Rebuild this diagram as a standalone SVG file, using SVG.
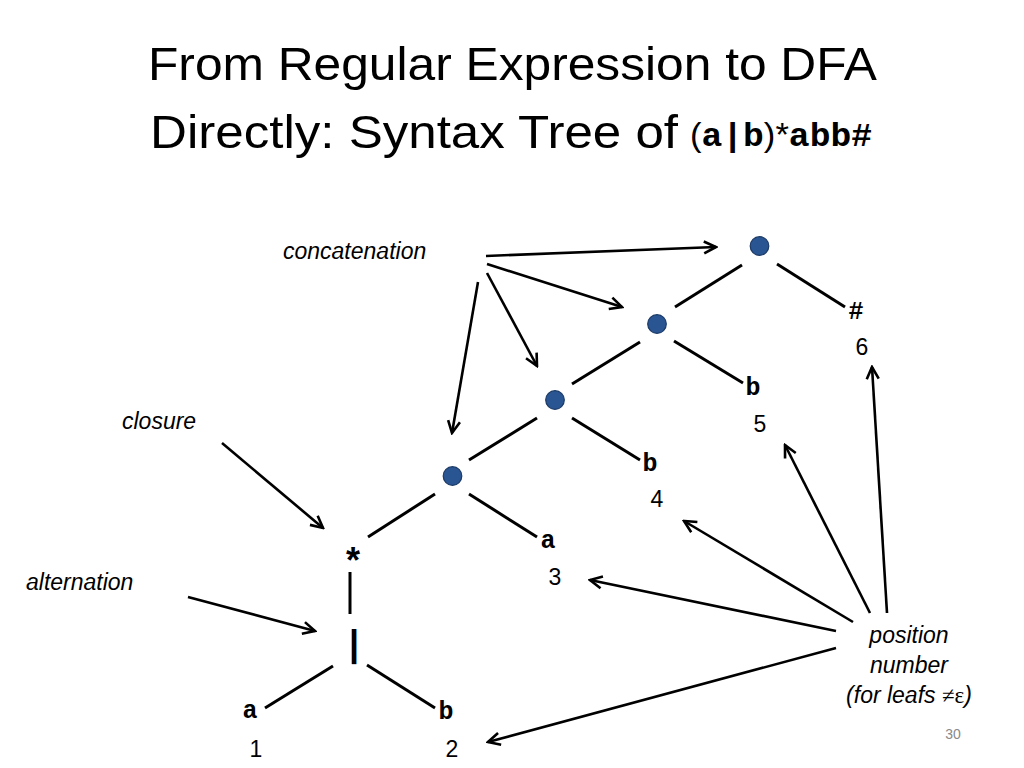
<svg xmlns="http://www.w3.org/2000/svg" width="1024" height="768" viewBox="0 0 1024 768">
<style>
.title{font-family:"Liberation Sans","Open Sans",Arial,sans-serif;font-size:47px;fill:#000}
.code{font-family:"Liberation Mono","Courier New",monospace;font-weight:bold}
.lbl{font-family:"Liberation Sans","Open Sans",Arial,sans-serif;font-style:italic;font-size:23px;fill:#000}
.leaf{font-family:"Liberation Mono","Courier New",monospace;font-weight:bold;font-size:25px;fill:#000;text-anchor:middle}
.num{font-family:"Liberation Sans","Open Sans",Arial,sans-serif;font-size:23px;fill:#000;text-anchor:middle}
.edge{stroke:#000;stroke-width:3;fill:none}
.arrow{stroke:#000;stroke-width:2.6;fill:none;marker-end:url(#arr)}
.dot{fill:#2a5593;stroke:#1b3a66;stroke-width:1.2}
</style>
<defs>
<marker id="arr" markerUnits="userSpaceOnUse" viewBox="-14 -8 16 16" refX="0" refY="0" markerWidth="16" markerHeight="16" orient="auto">
<path d="M-12,-6 L0,0 L-12,6" fill="none" stroke="#000" stroke-width="2.6"/>
</marker>
</defs>
<rect width="1024" height="768" fill="#fff"/>
<g id="title">
<text class="title" x="148" y="80" textLength="729" lengthAdjust="spacingAndGlyphs">From Regular Expression to DFA</text>
<text class="title" x="150" y="148" textLength="528" lengthAdjust="spacingAndGlyphs">Directly: Syntax Tree of</text>
<text x="690" y="146" font-size="34" font-family="Liberation Sans,Arial,sans-serif" textLength="182" lengthAdjust="spacingAndGlyphs"><tspan>(</tspan><tspan class="code">a|b</tspan><tspan>)*</tspan><tspan class="code">abb#</tspan></text>
</g>
<g id="connectors">
<line class="edge" x1="742" y1="265" x2="675" y2="307"/>
<line class="edge" x1="777" y1="264" x2="845" y2="307"/>
<line class="edge" x1="640" y1="342" x2="572" y2="384"/>
<line class="edge" x1="674" y1="341" x2="743" y2="383"/>
<line class="edge" x1="537" y1="418" x2="469" y2="460"/>
<line class="edge" x1="572" y1="418" x2="640" y2="460"/>
<line class="edge" x1="435" y1="494" x2="368" y2="537"/>
<line class="edge" x1="469" y1="494" x2="537" y2="537"/>
<line class="edge" x1="350" y1="572" x2="350" y2="614"/>
<line class="edge" x1="333" y1="666" x2="265" y2="708"/>
<line class="edge" x1="367" y1="665" x2="435" y2="708"/>
<line class="arrow" x1="486" y1="256" x2="716" y2="247"/>
<line class="arrow" x1="487" y1="264" x2="622" y2="307"/>
<line class="arrow" x1="487" y1="273" x2="537" y2="366"/>
<line class="arrow" x1="478" y1="282" x2="452" y2="433"/>
<line class="arrow" x1="222" y1="443" x2="323" y2="528"/>
<line class="arrow" x1="188" y1="597" x2="315" y2="631"/>
<line class="arrow" x1="887" y1="613" x2="872" y2="367"/>
<line class="arrow" x1="870" y1="613" x2="785" y2="445"/>
<line class="arrow" x1="853" y1="622" x2="684" y2="521"/>
<line class="arrow" x1="836" y1="631" x2="590" y2="580"/>
<line class="arrow" x1="836" y1="648" x2="488" y2="742"/>
</g>
<g id="cat1"><circle class="dot" cx="759.5" cy="246" r="9.3"/></g>
<g id="cat2"><circle class="dot" cx="657" cy="324" r="9.3"/></g>
<g id="cat3"><circle class="dot" cx="555" cy="400" r="9.3"/></g>
<g id="cat4"><circle class="dot" cx="452.5" cy="476" r="9.3"/></g>
<g id="star"><text class="leaf" x="353" y="574" style="font-size:36px">*</text></g>
<g id="alt"><text class="leaf" x="354" y="656" style="font-size:36px">|</text></g>
<g id="leaf1"><text class="leaf" x="250" y="718">a</text><text class="num" x="256" y="757">1</text></g>
<g id="leaf2"><text class="leaf" x="446" y="719">b</text><text class="num" x="452" y="757">2</text></g>
<g id="leaf3"><text class="leaf" x="548" y="548">a</text><text class="num" x="555" y="585">3</text></g>
<g id="leaf4"><text class="leaf" x="650" y="471">b</text><text class="num" x="657" y="507">4</text></g>
<g id="leaf5"><text class="leaf" x="753" y="395">b</text><text class="num" x="760" y="432">5</text></g>
<g id="leaf6"><text class="leaf" x="856" y="319">#</text><text class="num" x="862" y="355">6</text></g>
<g id="labels">
<text class="lbl" x="283" y="259">concatenation</text>
<text class="lbl" x="122" y="429">closure</text>
<text class="lbl" x="26" y="590">alternation</text>
<text class="lbl" x="909" y="643" text-anchor="middle">position</text>
<text class="lbl" x="909" y="673" text-anchor="middle">number</text>
<text class="lbl" x="909" y="703" text-anchor="middle">(for leafs <tspan font-family="Liberation Serif,serif" font-style="normal">≠ε</tspan>)</text>
</g>
<text x="953" y="739" font-family="Liberation Sans,Arial,sans-serif" font-size="14" fill="#898989" text-anchor="middle">30</text>
</svg>
